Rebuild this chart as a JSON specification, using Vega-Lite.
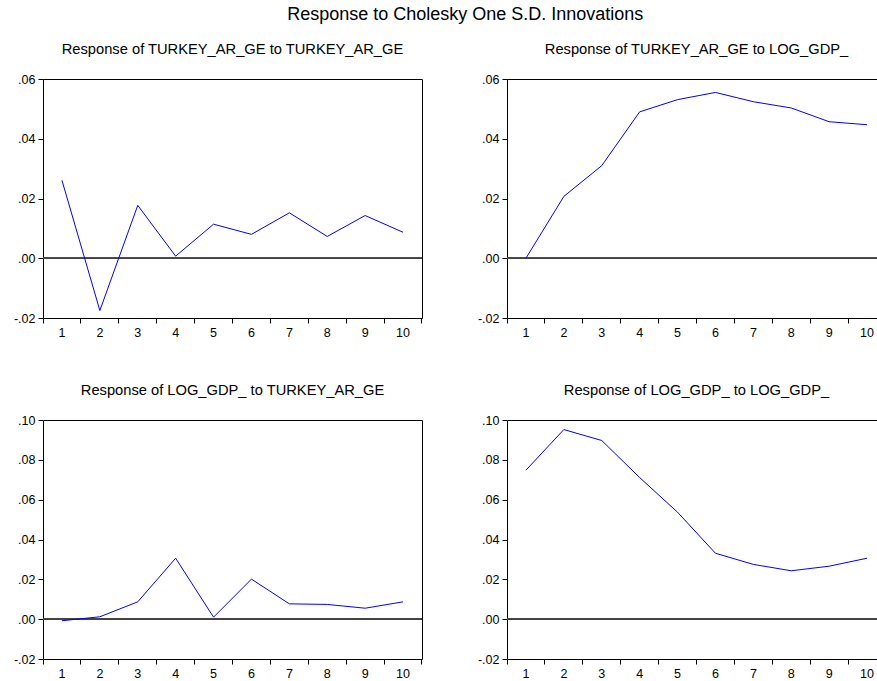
{
  "$schema": "https://vega.github.io/schema/vega-lite/v6.json",
  "background": "white",
  "padding": 5,
  "title": {"text": "Response to Cholesky One S.D. Innovations", "fontSize": 18, "font": "Liberation Sans", "fontWeight": "normal", "color": "black", "anchor": "middle", "dx": 19, "offset": 18},
  "data": {"values": [
    {"p": "a", "h": 1, "v": 0.0261}, {"p": "a", "h": 2, "v": -0.0175}, {"p": "a", "h": 3, "v": 0.0177}, {"p": "a", "h": 4, "v": 0.0007}, {"p": "a", "h": 5, "v": 0.0114},
    {"p": "a", "h": 6, "v": 0.0080}, {"p": "a", "h": 7, "v": 0.0152}, {"p": "a", "h": 8, "v": 0.0073}, {"p": "a", "h": 9, "v": 0.0143}, {"p": "a", "h": 10, "v": 0.0087},
    {"p": "b", "h": 1, "v": 0.0}, {"p": "b", "h": 2, "v": 0.0207}, {"p": "b", "h": 3, "v": 0.0310}, {"p": "b", "h": 4, "v": 0.0490}, {"p": "b", "h": 5, "v": 0.0531},
    {"p": "b", "h": 6, "v": 0.0555}, {"p": "b", "h": 7, "v": 0.0524}, {"p": "b", "h": 8, "v": 0.0503}, {"p": "b", "h": 9, "v": 0.0457}, {"p": "b", "h": 10, "v": 0.0447},
    {"p": "c", "h": 1, "v": -0.0008}, {"p": "c", "h": 2, "v": 0.0012}, {"p": "c", "h": 3, "v": 0.0087}, {"p": "c", "h": 4, "v": 0.0306}, {"p": "c", "h": 5, "v": 0.0010},
    {"p": "c", "h": 6, "v": 0.0201}, {"p": "c", "h": 7, "v": 0.0077}, {"p": "c", "h": 8, "v": 0.0074}, {"p": "c", "h": 9, "v": 0.0055}, {"p": "c", "h": 10, "v": 0.0087},
    {"p": "d", "h": 1, "v": 0.0748}, {"p": "d", "h": 2, "v": 0.0952}, {"p": "d", "h": 3, "v": 0.0897}, {"p": "d", "h": 4, "v": 0.0711}, {"p": "d", "h": 5, "v": 0.0537},
    {"p": "d", "h": 6, "v": 0.0331}, {"p": "d", "h": 7, "v": 0.0275}, {"p": "d", "h": 8, "v": 0.0243}, {"p": "d", "h": 9, "v": 0.0266}, {"p": "d", "h": 10, "v": 0.0306}
  ]},
  "spacing": 43,
  "vconcat": [
    {
      "spacing": 46,
      "hconcat": [
        {
          "title": {"text": "Response of TURKEY_AR_GE to TURKEY_AR_GE"},
          "width": 379, "height": 239,
          "transform": [{"filter": "datum.p == 'a'"}],
          "layer": [
            {"mark": {"type": "rule", "color": "#444444", "strokeWidth": 1}, "encoding": {"y": {"datum": 0}}},
            {"mark": {"type": "line", "color": "#0000ff", "strokeWidth": 1},
             "encoding": {
               "x": {"field": "h", "type": "ordinal", "scale": {"type": "band", "paddingInner": 0, "paddingOuter": 0}, "bandPosition": 0.5},
               "y": {"field": "v", "type": "quantitative", "scale": {"domain": [-0.02, 0.06], "nice": false, "zero": false}, "axis": {"values": [-0.02, 0, 0.02, 0.04, 0.06]}}
             }}
          ]
        },
        {
          "title": {"text": "Response of TURKEY_AR_GE to LOG_GDP_"},
          "width": 379, "height": 239,
          "transform": [{"filter": "datum.p == 'b'"}],
          "layer": [
            {"mark": {"type": "rule", "color": "#444444", "strokeWidth": 1}, "encoding": {"y": {"datum": 0}}},
            {"mark": {"type": "line", "color": "#0000ff", "strokeWidth": 1},
             "encoding": {
               "x": {"field": "h", "type": "ordinal", "scale": {"type": "band", "paddingInner": 0, "paddingOuter": 0}, "bandPosition": 0.5},
               "y": {"field": "v", "type": "quantitative", "scale": {"domain": [-0.02, 0.06], "nice": false, "zero": false}, "axis": {"values": [-0.02, 0, 0.02, 0.04, 0.06]}}
             }}
          ]
        }
      ]
    },
    {
      "spacing": 46,
      "hconcat": [
        {
          "title": {"text": "Response of LOG_GDP_ to TURKEY_AR_GE"},
          "width": 379, "height": 239,
          "transform": [{"filter": "datum.p == 'c'"}],
          "layer": [
            {"mark": {"type": "rule", "color": "#444444", "strokeWidth": 1}, "encoding": {"y": {"datum": 0}}},
            {"mark": {"type": "line", "color": "#0000ff", "strokeWidth": 1},
             "encoding": {
               "x": {"field": "h", "type": "ordinal", "scale": {"type": "band", "paddingInner": 0, "paddingOuter": 0}, "bandPosition": 0.5},
               "y": {"field": "v", "type": "quantitative", "scale": {"domain": [-0.02, 0.10], "nice": false, "zero": false}, "axis": {"values": [-0.02, 0, 0.02, 0.04, 0.06, 0.08, 0.10]}}
             }}
          ]
        },
        {
          "title": {"text": "Response of LOG_GDP_ to LOG_GDP_"},
          "width": 379, "height": 239,
          "transform": [{"filter": "datum.p == 'd'"}],
          "layer": [
            {"mark": {"type": "rule", "color": "#444444", "strokeWidth": 1}, "encoding": {"y": {"datum": 0}}},
            {"mark": {"type": "line", "color": "#0000ff", "strokeWidth": 1},
             "encoding": {
               "x": {"field": "h", "type": "ordinal", "scale": {"type": "band", "paddingInner": 0, "paddingOuter": 0}, "bandPosition": 0.5},
               "y": {"field": "v", "type": "quantitative", "scale": {"domain": [-0.02, 0.10], "nice": false, "zero": false}, "axis": {"values": [-0.02, 0, 0.02, 0.04, 0.06, 0.08, 0.10]}}
             }}
          ]
        }
      ]
    }
  ],
  "config": {
    "font": "Liberation Sans",
    "view": {"stroke": "black", "strokeWidth": 1},
    "title": {"fontSize": 14.7, "fontWeight": "normal", "color": "black", "font": "Liberation Sans", "anchor": "middle", "offset": 16},
    "axis": {"title": null, "grid": false, "domain": false, "tickColor": "black", "tickSize": 5, "labelColor": "black", "labelFontSize": 12.5, "labelFont": "Liberation Sans", "labelPadding": 3, "labelOverlap": false},
    "axisX": {"labelAngle": 0, "bandPosition": 1, "tickExtra": true},
    "axisY": {"labelExpr": "(datum.value < 0 ? '-' : '') + replace(format(abs(datum.value), '.2f'), '0.', '.')", "minExtent": 37, "maxExtent": 37, "tickCount": 20}
  }
}
